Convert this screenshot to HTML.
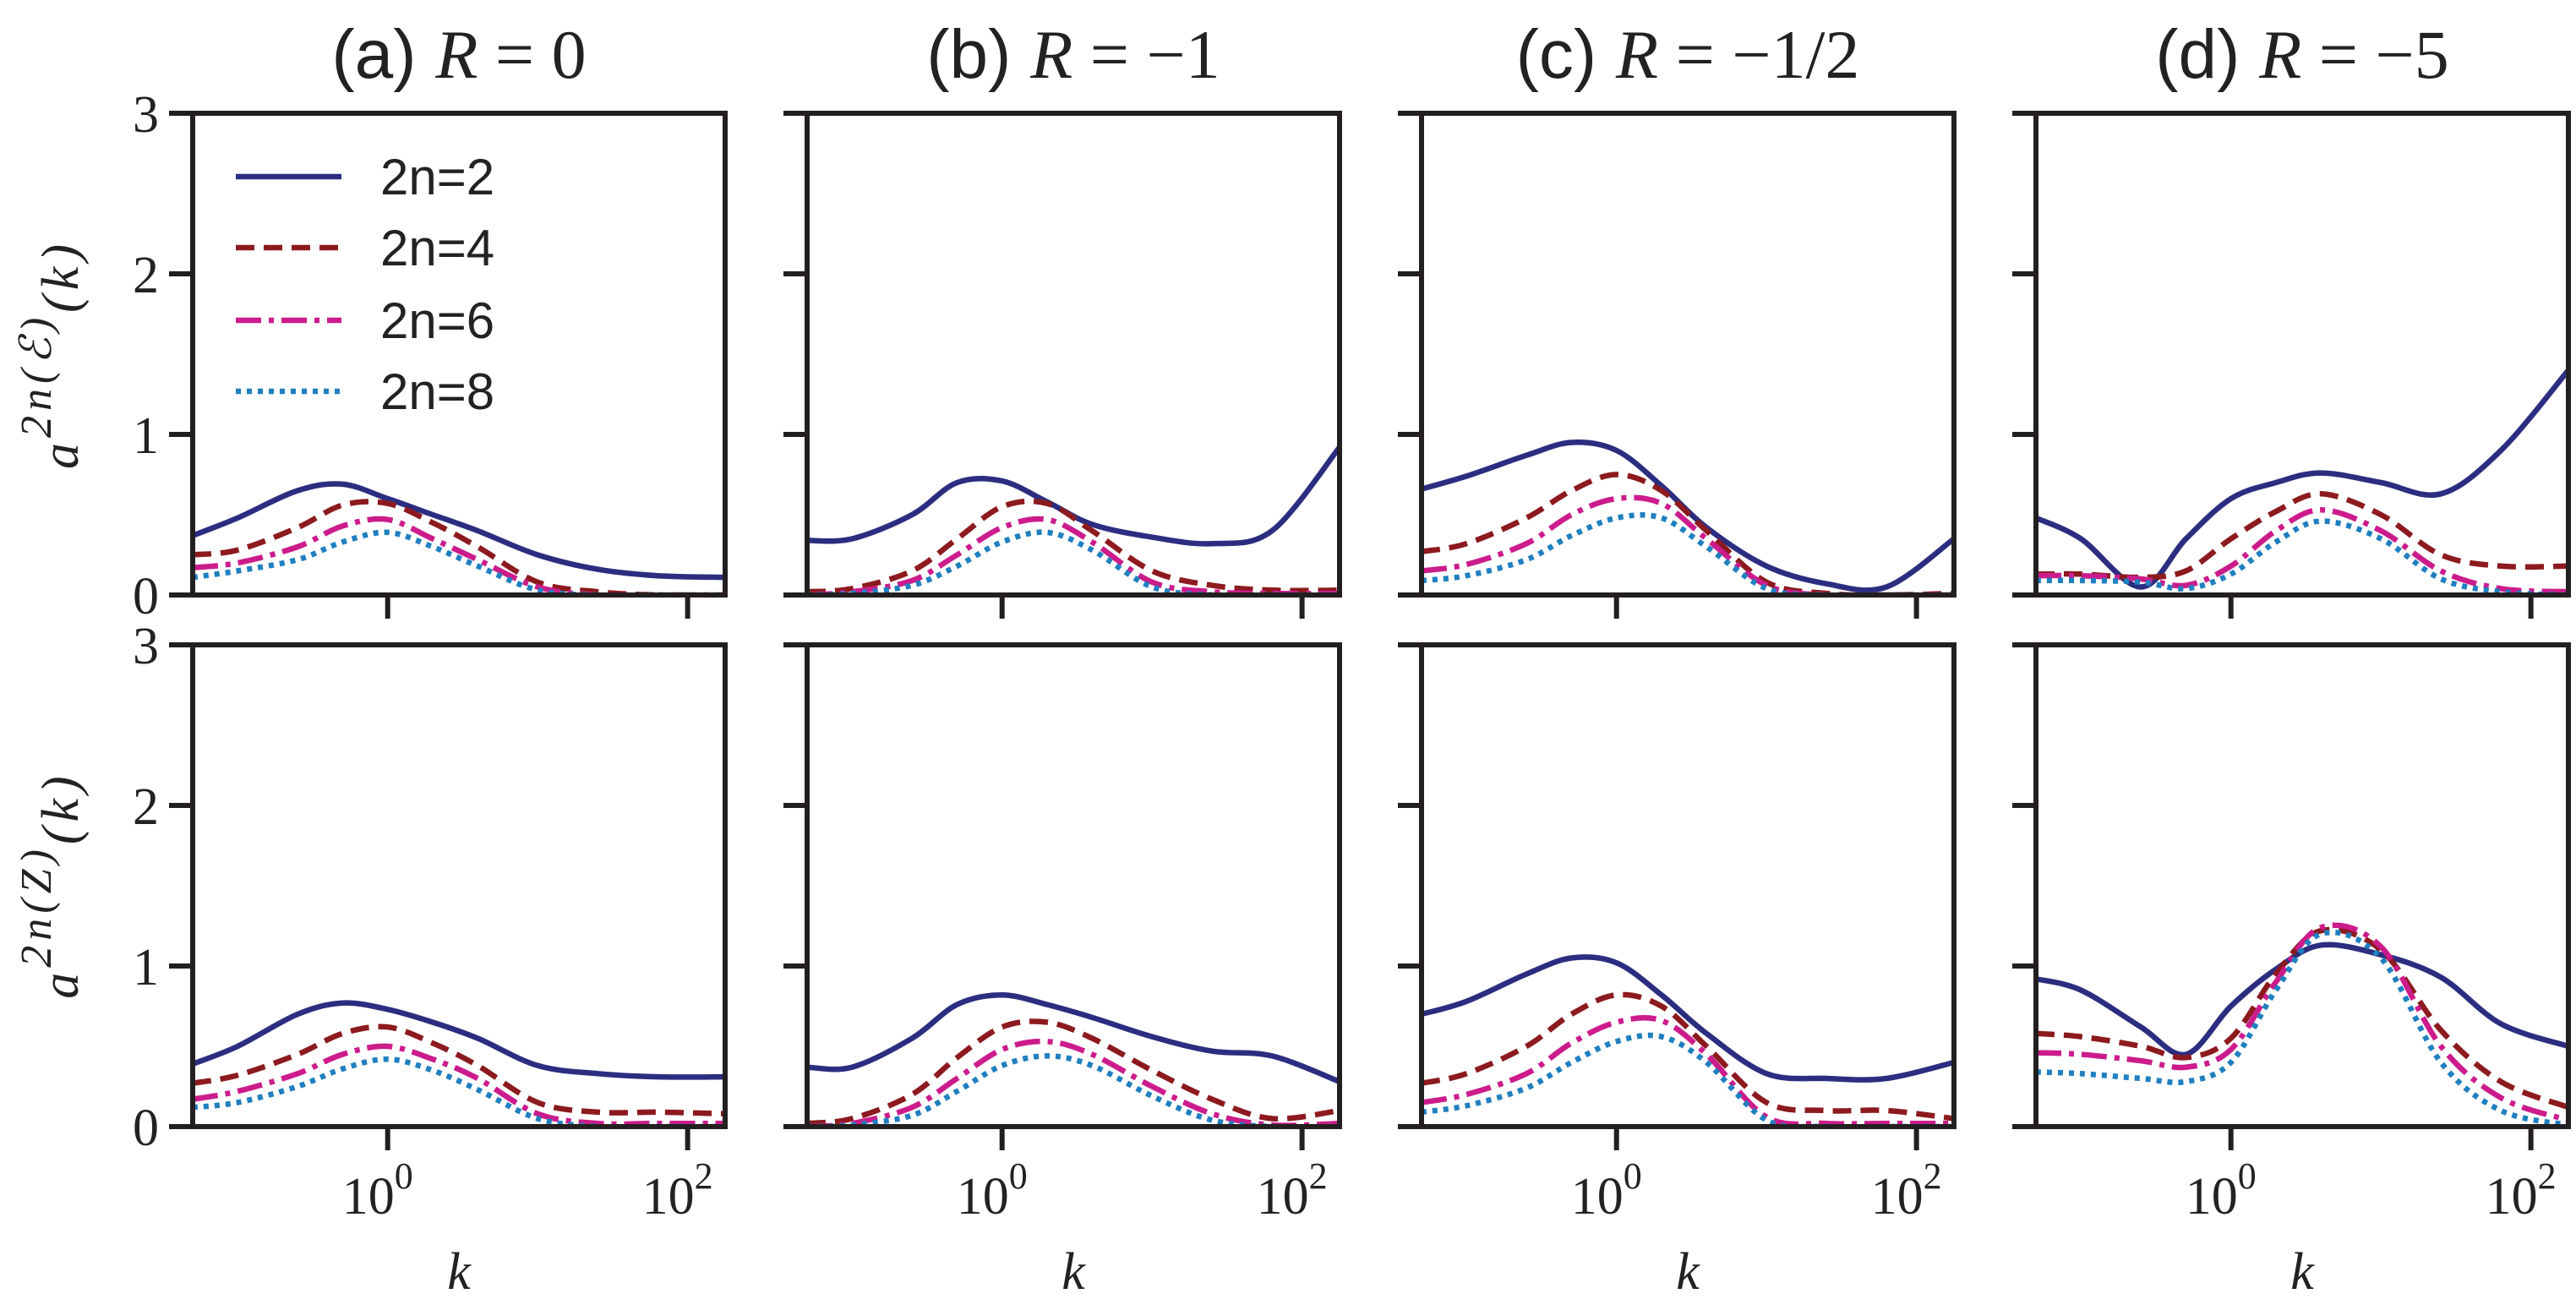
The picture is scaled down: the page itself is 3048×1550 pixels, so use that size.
<!DOCTYPE html>
<html><head><meta charset="utf-8">
<style>
html,body{margin:0;padding:0;background:#fff;}
svg{display:block;}
.tick{font-family:"Liberation Serif",serif;font-size:62px;fill:#222;}
.ttl{font-family:"Liberation Sans",sans-serif;font-size:82px;fill:#222;}
.leg{font-family:"Liberation Sans",sans-serif;font-size:60px;fill:#222;}
</style></head>
<body>
<svg id="chart" width="3048" height="1550" viewBox="0 0 3048 1550" xmlns="http://www.w3.org/2000/svg"></svg>
<script>
// sample positions (log10 k)
const logK = [-1.3,-1,-0.6,-0.3,0,0.3,0.6,1,1.4,1.8,2.25];
const seriesNames = ["2n=2","2n=4","2n=6","2n=8"];
const panelTitles = ["(a) ","(b) ","(c) ","(d) "];
const panelR = ["0","\u22121","\u22121/2","\u22125"];
const yTicks = [0,1,2,3];
const xTicks = [0,2];
// top row (epsilon)
const aE2=[0.37,0.48,0.65,0.69,0.60,0.50,0.40,0.25,0.16,0.12,0.11];
const aE4=[0.25,0.28,0.42,0.56,0.57,0.45,0.30,0.08,0.02,0.0,0.0];
const aE6=[0.17,0.20,0.30,0.43,0.47,0.35,0.22,0.05,0,0,0];
const aE8=[0.11,0.15,0.22,0.33,0.39,0.30,0.18,0.03,0,0,0];
const bE2=[0.34,0.35,0.50,0.70,0.71,0.58,0.44,0.36,0.32,0.40,0.92];
const bE4=[0.02,0.04,0.15,0.35,0.55,0.57,0.40,0.15,0.06,0.03,0.03];
const bE6=[0.0,0.02,0.09,0.25,0.42,0.47,0.33,0.08,0.02,0.01,0.01];
const bE8=[0,0.01,0.06,0.18,0.33,0.39,0.28,0.05,0,0,0];
const cE2=[0.66,0.74,0.87,0.95,0.90,0.68,0.42,0.18,0.07,0.05,0.35];
const cE4=[0.27,0.32,0.48,0.65,0.75,0.65,0.40,0.08,0.01,0.0,0.01];
const cE6=[0.15,0.19,0.32,0.50,0.60,0.57,0.35,0.06,0,0,0];
const cE8=[0.09,0.12,0.22,0.37,0.48,0.48,0.30,0.04,0,0,0];
const dE2=[0.48,0.35,0.05,0.35,0.60,0.70,0.76,0.70,0.63,0.90,1.40];
const dE4=[0.13,0.13,0.11,0.15,0.35,0.52,0.63,0.50,0.25,0.18,0.18];
const dE6=[0.12,0.12,0.10,0.06,0.18,0.40,0.53,0.40,0.15,0.04,0.02];
const dE8=[0.09,0.09,0.08,0.04,0.13,0.33,0.46,0.35,0.10,0.02,0.0];
// bottom row (Z)
const aZ2=[0.39,0.50,0.70,0.77,0.73,0.65,0.55,0.38,0.33,0.31,0.31];
const aZ4=[0.27,0.32,0.45,0.58,0.62,0.52,0.38,0.15,0.09,0.09,0.08];
const aZ6=[0.17,0.22,0.33,0.45,0.50,0.42,0.30,0.08,0.02,0.02,0.02];
const aZ8=[0.12,0.15,0.25,0.36,0.42,0.35,0.23,0.05,0,0,0];
const bZ2=[0.37,0.37,0.55,0.76,0.82,0.76,0.68,0.56,0.47,0.44,0.28];
const bZ4=[0.02,0.05,0.20,0.43,0.62,0.65,0.55,0.35,0.17,0.05,0.10];
const bZ6=[0,0.02,0.12,0.30,0.48,0.53,0.45,0.25,0.08,0.01,0.02];
const bZ8=[0,0.01,0.07,0.22,0.38,0.44,0.38,0.19,0.04,0,0];
const cZ2=[0.70,0.78,0.95,1.05,1.02,0.82,0.58,0.33,0.30,0.30,0.40];
const cZ4=[0.27,0.33,0.50,0.70,0.82,0.75,0.50,0.15,0.10,0.10,0.05];
const cZ6=[0.15,0.20,0.33,0.52,0.65,0.66,0.45,0.06,0.02,0.02,0.02];
const cZ8=[0.09,0.13,0.24,0.40,0.53,0.56,0.40,0.04,0,0,0];
const dZ2=[0.92,0.85,0.62,0.45,0.75,0.98,1.13,1.07,0.93,0.64,0.50];
const dZ4=[0.58,0.56,0.50,0.43,0.55,0.95,1.22,1.10,0.60,0.28,0.12];
const dZ6=[0.46,0.45,0.41,0.37,0.48,0.90,1.24,1.12,0.50,0.18,0.04];
const dZ8=[0.34,0.33,0.30,0.28,0.40,0.85,1.20,1.05,0.40,0.10,0.01];

const rowsData = [[[aE2,aE4,aE6,aE8],[bE2,bE4,bE6,bE8],[cE2,cE4,cE6,cE8],[dE2,dE4,dE6,dE8]],
                  [[aZ2,aZ4,aZ6,aZ8],[bZ2,bZ4,bZ6,bZ8],[cZ2,cZ4,cZ6,cZ8],[dZ2,dZ4,dZ6,dZ8]]];

const NS="http://www.w3.org/2000/svg";
const svg=document.getElementById('chart');
function mk(tag,attrs,parent){const e=document.createElementNS(NS,tag);for(const k in attrs)e.setAttribute(k,attrs[k]);(parent||svg).appendChild(e);return e;}

const colLeft=[228,955,1682,2409], PW=630;
const rowTop=[134,763], PH=570;
const xMin=-1.3, xMax=2.25;
const colors=["#2b2e80","#8c1a1f","#cc1c8c","#1f7fc0"];
const dashes=["","22,11","30,9,6,9","6,7"];
const STK="#231f20";

function xScale(c,lk){return colLeft[c]+(lk-xMin)/(xMax-xMin)*PW;}
function yScale(r,v){return rowTop[r]+PH-v/3*PH;}
function smoothPath(pts){
  let d="M"+pts[0][0].toFixed(1)+","+pts[0][1].toFixed(1);
  for(let i=0;i<pts.length-1;i++){
    const p0=pts[Math.max(0,i-1)],p1=pts[i],p2=pts[i+1],p3=pts[Math.min(pts.length-1,i+2)];
    const c1x=p1[0]+(p2[0]-p0[0])/6,c1y=p1[1]+(p2[1]-p0[1])/6;
    const c2x=p2[0]-(p3[0]-p1[0])/6,c2y=p2[1]-(p3[1]-p1[1])/6;
    d+=" C"+c1x.toFixed(1)+","+c1y.toFixed(1)+" "+c2x.toFixed(1)+","+c2y.toFixed(1)+" "+p2[0].toFixed(1)+","+p2[1].toFixed(1);
  }
  return d;
}

const defs=mk('defs',{});
for(let r=0;r<2;r++)for(let c=0;c<4;c++){
  const cp=mk('clipPath',{id:'cp'+r+c},defs);
  mk('rect',{x:colLeft[c],y:rowTop[r]-2,width:PW,height:PH},cp);
}

for(let c=0;c<4;c++){
  const t=mk('text',{x:colLeft[c]+PW/2,y:92,'text-anchor':'middle',class:'ttl'});
  
  
  const s1=mk('tspan',{},t);s1.textContent=panelTitles[c];
  const s2=mk('tspan',{'font-family':'Liberation Serif, serif','font-style':'italic'},t);s2.textContent='R';
  const s3=mk('tspan',{'font-family':'Liberation Serif, serif'},t);s3.textContent=' = '+panelR[c];
}

for(let r=0;r<2;r++)for(let c=0;c<4;c++){
  const g=mk('g',{});
  
  
  const series=rowsData[r][c];
  for(let s=0;s<4;s++){
    const pts=logK.map((lk,i)=>[xScale(c,lk),yScale(r,series[s][i])]);
    const p=mk('path',{d:smoothPath(pts),fill:'none',stroke:colors[s],'stroke-width':6.5,'clip-path':'url(#cp'+r+c+')'},g);
    if(dashes[s])p.setAttribute('stroke-dasharray',dashes[s]);
    
    
  }
  const fr=mk('rect',{x:colLeft[c],y:rowTop[r],width:PW,height:PH,fill:'none',stroke:STK,'stroke-width':6},g);
  
  
  yTicks.forEach(v=>{
    const y=yScale(r,v);
    mk('line',{x1:colLeft[c]-28,x2:colLeft[c],y1:y,y2:y,stroke:STK,'stroke-width':6},g);
    if(c===0){
      const tl=mk('text',{x:colLeft[c]-40,y:y+22,'text-anchor':'end',class:'tick'},g);
      tl.textContent=v;
      
      
    }
  });
  xTicks.forEach(e=>{
    const x=xScale(c,e);
    mk('line',{x1:x,x2:x,y1:rowTop[r]+PH,y2:rowTop[r]+PH+28,stroke:STK,'stroke-width':6},g);
    if(r===1){
      const tl=mk('text',{x:x-12,y:1436,'text-anchor':'middle',class:'tick'},g);
      tl.textContent='10';
      const sp=mk('tspan',{dy:-30,'font-size':'44px'},tl);sp.textContent=e;
      
      
    }
  });
  if(r===1){
    const kl=mk('text',{x:colLeft[c]+PW/2,y:1525,'text-anchor':'middle',class:'tick','font-style':'italic'},g);
    kl.textContent='k';
    
    
  }
}

// y-axis titles
[["\u2130",419],["Z",1047]].forEach((it,r)=>{
  const t=mk('text',{x:0,y:0,transform:'translate(92,'+it[1]+') rotate(-90)','text-anchor':'middle',class:'tick','font-style':'italic','font-size':'76px','letter-spacing':'6px'});
  
  
  const a=mk('tspan',{},t);a.textContent='a';
  const sup=mk('tspan',{dy:-32,'font-size':'52px'},t);sup.textContent='2n('+it[0]+')';
  const rest=mk('tspan',{dy:32},t);rest.textContent='(k)';
});

// legend
const legY=[209,293,379,463];
const lg=mk('g',{});


for(let s=0;s<4;s++){
  const ln=mk('line',{x1:279,x2:404,y1:legY[s],y2:legY[s],stroke:colors[s],'stroke-width':6.5},lg);
  if(dashes[s])ln.setAttribute('stroke-dasharray',dashes[s]);
  const tx=mk('text',{x:450,y:legY[s]+21,class:'leg'},lg);
  tx.textContent=seriesNames[s];
  
  
}
</script>
</body></html>
